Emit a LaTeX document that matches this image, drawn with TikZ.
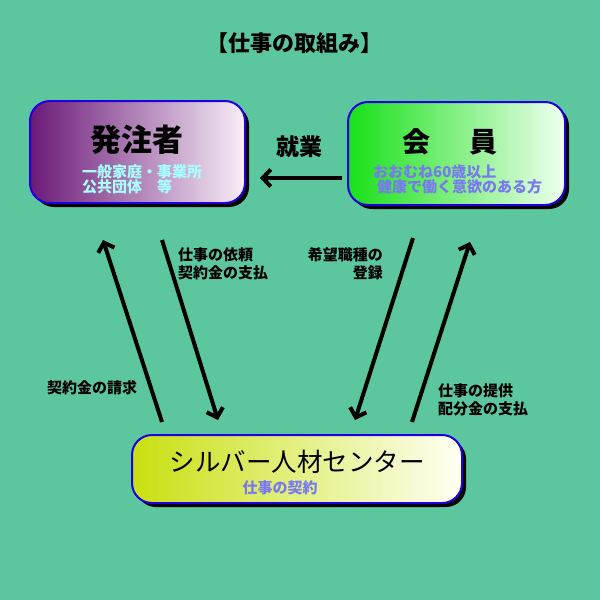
\documentclass[tikz,border=0pt]{standalone}
\usepackage{fontspec}
\setmainfont{Noto Sans CJK JP}
\usepackage{tikz}
\usetikzlibrary{arrows.meta}
\usetikzlibrary{shadows}
\definecolor{bgcolor}{RGB}{92,199,159}
\definecolor{boxline}{RGB}{32,0,224}
\definecolor{subcyan}{RGB}{168,255,255}
\definecolor{subblue}{RGB}{120,120,240}

\begin{document}
\begin{tikzpicture}[x=1pt,y=-1pt,
  box/.style={draw=boxline, line width=2pt, rounded corners=20pt,
    drop shadow={shadow xshift=4pt, shadow yshift=-4pt, fill=black, opacity=1}},
  flow/.style={line width=4pt, -{Straight Barb[length=8pt,width=17pt]}},
  note/.style={font=\bfseries\fontsize{15}{17.5}\selectfont, inner sep=0pt},
  sub/.style={font=\bfseries\fontsize{15}{15}\selectfont, inner sep=0pt, align=left}]
  \useasboundingbox (0,0) rectangle (600,600);
  \fill[bgcolor] (0,0) rectangle (600,600);
  \node[font=\bfseries\fontsize{22}{22}\selectfont] (title) at (294,43) {【仕事の取組み】};
  % boxes
  \node[box, left color={rgb,255:red,106;green,26;blue,120}, right color={rgb,255:red,248;green,238;blue,248},
    minimum width=215pt, minimum height=102pt] (client) at (137.5,152) {};
  \node[box, left color={rgb,255:red,24;green,224;blue,24}, right color={rgb,255:red,240;green,255;blue,240},
    minimum width=217pt, minimum height=103pt] (member) at (456.5,153.5) {};
  \node[box, left color={rgb,255:red,200;green,224;blue,16}, right color={rgb,255:red,255;green,255;blue,245},
    minimum width=330pt, minimum height=68pt] (center) at (297,469) {};
  % box texts
  \node[font=\bfseries\fontsize{31}{31}\selectfont] (client-t) at (137,140) {発注者};
  \node[sub, text=subcyan, anchor=west] (client-s) at (82,179.5) {一般家庭・事業所\\公共団体　等};
  \node[font=\bfseries\fontsize{28}{28}\selectfont] (member-t) at (450,142) {会\hspace{39pt}員};
  \node[sub, text=subblue, anchor=west] (member-s) at (373,179.5) {おおむね60歳以上\\\hspace{4pt}健康で働く意欲のある方};
  \node[font=\fontsize{25.5}{25.5}\selectfont] (center-t) at (297,462) {シルバー人材センター};
  \node[sub, text=subblue] (center-s) at (280,488) {仕事の契約};
  % connectors
  \coordinate (w1) at (342,178); \coordinate (w2) at (260,178);
  \coordinate (a1) at (162,422); \coordinate (a2) at (103,240);
  \coordinate (b1) at (162,240); \coordinate (b2) at (218,420);
  \coordinate (c1) at (413,238); \coordinate (c2) at (355,420);
  \coordinate (d1) at (412,422); \coordinate (d2) at (470,242);
  \draw[flow] (w1) -- (w2);
  \draw[flow] (a1) -- (a2);
  \draw[flow] (b1) -- (b2);
  \draw[flow] (c1) -- (c2);
  \draw[flow] (d1) -- (d2);
  \node[font=\bfseries\fontsize{23}{23}\selectfont] (work) at (299,147) {就業};
  \node[note, anchor=west, align=left] (order) at (178,264) {仕事の依頼\\契約金の支払};
  \node[note, anchor=east, align=right] (register) at (383,264) {希望職種の\\登録};
  \node[note, anchor=west] (claim) at (47,388) {契約金の請求};
  \node[note, anchor=west, align=left] (offer) at (438,400) {仕事の提供\\配分金の支払};
\end{tikzpicture}
\end{document}
